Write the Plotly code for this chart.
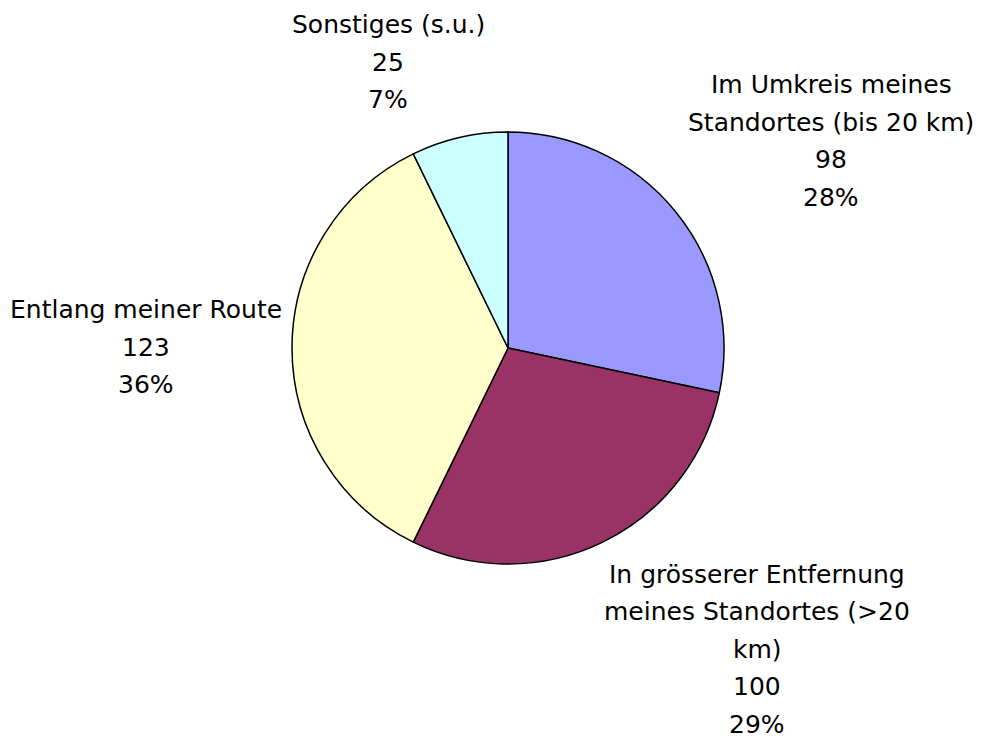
import plotly.graph_objects as go

# ---- data ----
categories = [
    "Im Umkreis meines Standortes (bis 20 km)",
    "In grösserer Entfernung meines Standortes (>20 km)",
    "Entlang meiner Route",
    "Sonstiges (s.u.)",
]
label_lines = [
    ["Im Umkreis meines", "Standortes (bis 20 km)"],
    ["In grösserer Entfernung", "meines Standortes (>20", "km)"],
    ["Entlang meiner Route"],
    ["Sonstiges (s.u.)"],
]
values = [98, 100, 123, 25]
colors = ["#9999FF", "#993366", "#FFFFCC", "#CCFFFF"]

# label block centres (pixel positions in the 994x743 window)
label_pos = [(831, 141), (757, 649), (146, 347), (388, 62)]

W, H = 994, 743
OFF = 8  # page body margin
total = sum(values)
percents = [round(v * 100 / total) for v in values]


def px_x(x):
    return (x - OFF) / W


def px_y(y):
    return 1 - (y - OFF) / H


fig = go.Figure(
    go.Pie(
        labels=categories,
        values=values,
        sort=False,
        direction="clockwise",
        rotation=0,
        textinfo="none",
        marker=dict(colors=colors, line=dict(color="#000000", width=1.5)),
        domain=dict(x=[px_x(292), px_x(724)], y=[px_y(565), px_y(131)]),
        showlegend=False,
    )
)

LINE = 37.5
annotations = []
for lines, v, p, (cx, cy) in zip(label_lines, values, percents, label_pos):
    all_lines = lines + [str(v), f"{p}%"]
    n = len(all_lines)
    for i, t in enumerate(all_lines):
        py = cy + (i - (n - 1) / 2) * LINE
        annotations.append(
            dict(
                x=px_x(cx), y=px_y(py), xref="paper", yref="paper",
                text=t, showarrow=False, xanchor="center", yanchor="middle",
                font=dict(family="DejaVu Sans", size=25, color="#000000"),
            )
        )

fig.update_layout(
    width=W, height=H,
    margin=dict(l=0, r=0, t=0, b=0),
    paper_bgcolor="white", plot_bgcolor="white",
    annotations=annotations,
)

fig.write_html("out.html")
